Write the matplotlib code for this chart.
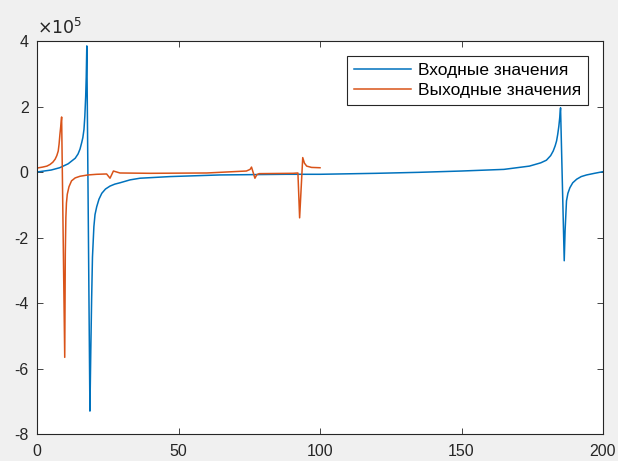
import matplotlib.pyplot as plt

# Values are in units of 1e5 (shown by the multiplier above the y axis)
x_in = [0, 5, 8, 11, 13.5, 14.5, 15.2, 15.8, 16.2, 16.6,
        16.9, 17.2, 17.4, 17.6, 18.7, 19.0, 19.3, 19.6, 20.1, 20.5,
        21.1, 21.9, 22.9, 24.2, 25.8, 27.5, 29.3, 32.9, 36.4, 47,
        64.7, 88, 100, 120, 135, 150, 165, 174, 178, 180,
        181.5, 182.4, 183.1, 183.6, 184.0, 184.4, 184.7, 185.0, 186.3, 186.6,
        187.1, 187.6, 188.3, 189.3, 190.7, 192.3, 194.2, 197, 200]
y_in = [0.0, 0.06, 0.13, 0.25, 0.42, 0.55, 0.7, 0.9, 1.05, 1.3,
        1.7, 2.3, 2.9, 3.85, -7.3, -5.5, -3.9, -2.6, -1.67, -1.3,
        -1.06, -0.83, -0.65, -0.52, -0.43, -0.37, -0.33, -0.24, -0.19, -0.14,
        -0.09, -0.07, -0.07, -0.04, -0.01, 0.03, 0.08, 0.18, 0.28, 0.36,
        0.5, 0.64, 0.8, 0.95, 1.15, 1.4, 1.65, 1.96, -2.71, -1.8,
        -0.88, -0.65, -0.48, -0.33, -0.22, -0.14, -0.09, -0.04, 0.01]

x_out = [0, 2, 3.5, 4.6, 5.6, 6.4, 7.0, 7.5, 7.8, 8.1,
         8.4, 8.7, 9.8, 10.0, 10.2, 10.4, 10.7, 11.3, 12.2, 13.5,
         15.2, 18, 21.1, 24.6, 25.8, 27.0, 29.3, 40, 60, 74,
         75.3, 75.8, 77, 77.7, 78.5, 90.5, 92.2, 92.8, 93.9, 94.5,
         95.3, 97, 100]
y_out = [0.12, 0.15, 0.18, 0.23, 0.3, 0.39, 0.5, 0.64, 0.85, 1.15,
         1.4, 1.68, -5.66, -2.5, -1.39, -0.95, -0.68, -0.45, -0.27, -0.18,
         -0.13, -0.09, -0.07, -0.06, -0.19, 0.03, -0.03, -0.04, -0.03, 0.03,
         0.08, 0.15, -0.19, -0.08, -0.05, -0.04, -0.03, -1.4, 0.44, 0.27,
         0.18, 0.14, 0.13]

labels = ["Входные значения", "Выходные значения"]

plt.rcParams['font.family'] = ['Liberation Sans', 'DejaVu Sans']
plt.rcParams['axes.unicode_minus'] = False

fig = plt.figure(figsize=(6.18, 4.61), dpi=100, facecolor='#f0f0f0')
ax = fig.add_axes([37 / 618, 27 / 461, 566 / 618, 393 / 461])

ax.plot(x_in, y_in, color='#0072BD', linewidth=1.1, label=labels[0])
ax.plot(x_out, y_out, color='#D95319', linewidth=1.1, label=labels[1])

ax.set_xlim(0, 200)
ax.set_ylim(-8, 4)
ax.set_xticks([0, 50, 100, 150, 200])
ax.set_yticks([-8, -6, -4, -2, 0, 2, 4])
ax.tick_params(direction='in', length=4, width=0.6, colors='#262626',
               labelsize=11.5, top=True, right=True, labeltop=False, labelright=False)
ax.tick_params(axis='y', pad=6)
ax.tick_params(axis='x', pad=7)
for s in ax.spines.values():
    s.set_color('#262626')
    s.set_linewidth(0.8)

ax.text(0.0, 1.01, r'$\times10^{5}$', transform=ax.transAxes, fontsize=12.5,
        color='#262626', ha='left', va='bottom')

leg = ax.legend(loc='upper right', bbox_to_anchor=(0.973, 0.962), borderaxespad=0,
                fancybox=False, edgecolor='#262626', framealpha=1,
                handlelength=3.3, handletextpad=0.35, labelspacing=0.3,
                borderpad=0.4, fontsize=12.5)
leg.get_frame().set_linewidth(0.8)

fig.savefig('out.png', dpi=100, facecolor=fig.get_facecolor())
